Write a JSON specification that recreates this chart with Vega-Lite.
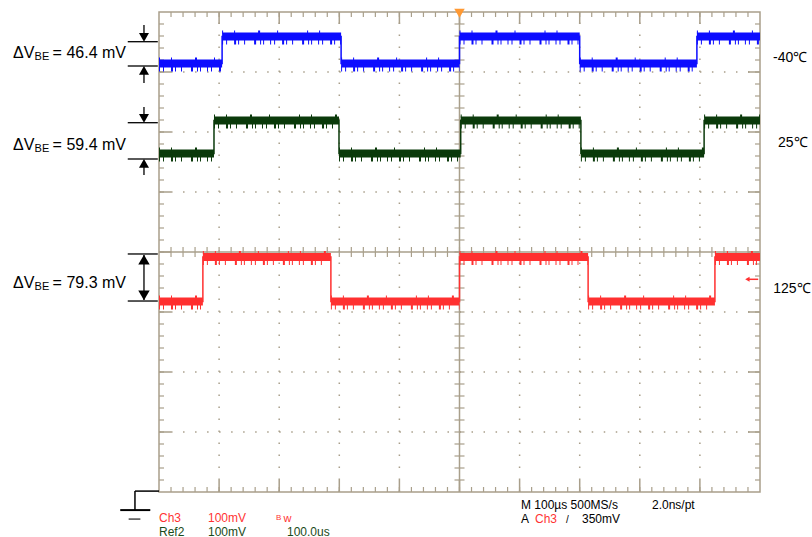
{
  "$schema": "https://vega.github.io/schema/vega-lite/v6.json",
  "width": 601,
  "height": 480,
  "autosize": {"type": "none"},
  "padding": {"left": 159, "top": 12, "right": 52, "bottom": 45},
  "background": "white",
  "config": {
    "view": {"stroke": "#a99f8b", "strokeWidth": 1.5},
    "axis": {"disable": true, "domain": false, "ticks": false, "labels": false, "grid": false, "titleOpacity": 0},
    "text": {"font": "Liberation Sans"}
  },
  "data": {"values": [{}]},
  "datasets": {
    "gx": [{"t": 1}, {"t": 2}, {"t": 3}, {"t": 4}, {"t": 6}, {"t": 7}, {"t": 8}, {"t": 9}],
    "gy": [{"t": -3}, {"t": -2}, {"t": -1}, {"t": 1}, {"t": 2}, {"t": 3}],
    "Mx": [{"t": 1}, {"t": 2}, {"t": 3}, {"t": 4}, {"t": 5}, {"t": 6}, {"t": 7}, {"t": 8}, {"t": 9}],
    "My": [{"t": -3}, {"t": -2}, {"t": -1}, {"t": 0}, {"t": 1}, {"t": 2}, {"t": 3}],
    "mx": [{"t":0.2},{"t":0.4},{"t":0.6},{"t":0.8},{"t":1.0},{"t":1.2},{"t":1.4},{"t":1.6},{"t":1.8},{"t":2.0},{"t":2.2},{"t":2.4},{"t":2.6},{"t":2.8},{"t":3.0},{"t":3.2},{"t":3.4},{"t":3.6},{"t":3.8},{"t":4.0},{"t":4.2},{"t":4.4},{"t":4.6},{"t":4.8},{"t":5.0},{"t":5.2},{"t":5.4},{"t":5.6},{"t":5.8},{"t":6.0},{"t":6.2},{"t":6.4},{"t":6.6},{"t":6.8},{"t":7.0},{"t":7.2},{"t":7.4},{"t":7.6},{"t":7.8},{"t":8.0},{"t":8.2},{"t":8.4},{"t":8.6},{"t":8.8},{"t":9.0},{"t":9.2},{"t":9.4},{"t":9.6},{"t":9.8}],
    "my": [{"t":-3.8},{"t":-3.6},{"t":-3.4},{"t":-3.2},{"t":-3.0},{"t":-2.8},{"t":-2.6},{"t":-2.4},{"t":-2.2},{"t":-2.0},{"t":-1.8},{"t":-1.6},{"t":-1.4},{"t":-1.2},{"t":-1.0},{"t":-0.8},{"t":-0.6},{"t":-0.4},{"t":-0.2},{"t":0.0},{"t":0.2},{"t":0.4},{"t":0.6},{"t":0.8},{"t":1.0},{"t":1.2},{"t":1.4},{"t":1.6},{"t":1.8},{"t":2.0},{"t":2.2},{"t":2.4},{"t":2.6},{"t":2.8},{"t":3.0},{"t":3.2},{"t":3.4},{"t":3.6},{"t":3.8}],
    "tr": [
      {"s":"-40","seg":"b1","i":1,"t":0,"v":3.14},{"s":"-40","seg":"b1","i":2,"t":1.05,"v":3.14},
      {"s":"-40","seg":"b2","i":3,"t":1.05,"v":3.59},{"s":"-40","seg":"b2","i":4,"t":3.03,"v":3.59},
      {"s":"-40","seg":"b3","i":5,"t":3.03,"v":3.14},{"s":"-40","seg":"b3","i":6,"t":5.0,"v":3.14},
      {"s":"-40","seg":"b4","i":7,"t":5.0,"v":3.59},{"s":"-40","seg":"b4","i":8,"t":7.0,"v":3.59},
      {"s":"-40","seg":"b5","i":9,"t":7.0,"v":3.14},{"s":"-40","seg":"b5","i":10,"t":8.95,"v":3.14},
      {"s":"-40","seg":"b6","i":11,"t":8.95,"v":3.59},{"s":"-40","seg":"b6","i":12,"t":10,"v":3.59},
      {"s":"25","seg":"g1","i":1,"t":0,"v":1.64},{"s":"25","seg":"g1","i":2,"t":0.915,"v":1.64},
      {"s":"25","seg":"g2","i":3,"t":0.915,"v":2.19},{"s":"25","seg":"g2","i":4,"t":2.995,"v":2.19},
      {"s":"25","seg":"g3","i":5,"t":2.995,"v":1.64},{"s":"25","seg":"g3","i":6,"t":5.02,"v":1.64},
      {"s":"25","seg":"g4","i":7,"t":5.02,"v":2.19},{"s":"25","seg":"g4","i":8,"t":7.02,"v":2.19},
      {"s":"25","seg":"g5","i":9,"t":7.02,"v":1.64},{"s":"25","seg":"g5","i":10,"t":9.07,"v":1.64},
      {"s":"25","seg":"g6","i":11,"t":9.07,"v":2.19},{"s":"25","seg":"g6","i":12,"t":10,"v":2.19},
      {"s":"125","seg":"r1","i":1,"t":0,"v":-0.825},{"s":"125","seg":"r1","i":2,"t":0.73,"v":-0.825},
      {"s":"125","seg":"r2","i":3,"t":0.73,"v":-0.083},{"s":"125","seg":"r2","i":4,"t":2.86,"v":-0.083},
      {"s":"125","seg":"r3","i":5,"t":2.86,"v":-0.825},{"s":"125","seg":"r3","i":6,"t":5.0,"v":-0.825},
      {"s":"125","seg":"r4","i":7,"t":5.0,"v":-0.083},{"s":"125","seg":"r4","i":8,"t":7.14,"v":-0.083},
      {"s":"125","seg":"r5","i":9,"t":7.14,"v":-0.825},{"s":"125","seg":"r5","i":10,"t":9.25,"v":-0.825},
      {"s":"125","seg":"r6","i":11,"t":9.25,"v":-0.083},{"s":"125","seg":"r6","i":12,"t":10,"v":-0.083}
    ]
  },
  "layer": [
    {"data": {"name": "gx"}, "mark": {"type": "rule", "color": "#a99f8b", "strokeWidth": 1.5, "strokeDash": [1.5, 10.5]},
     "encoding": {"x": {"field": "t", "type": "quantitative", "scale": {"domain": [0, 10], "nice": false, "zero": false}, "axis": null},
                  "y": {"datum": -4, "scale": {"domain": [-4, 4], "nice": false, "zero": false}, "axis": null}, "y2": {"datum": 4}}},
    {"data": {"name": "gy"}, "mark": {"type": "rule", "color": "#a99f8b", "strokeWidth": 1.5, "strokeDash": [1.5, 10.52]},
     "encoding": {"y": {"field": "t", "type": "quantitative", "axis": null}, "x": {"datum": 0, "axis": null}, "x2": {"datum": 10}}},
    {"mark": {"type": "rule", "color": "#a99f8b", "strokeWidth": 1.5},
     "encoding": {"x": {"datum": 5, "axis": null}, "y": {"datum": -4, "axis": null}, "y2": {"datum": 4}}},
    {"mark": {"type": "rule", "color": "#a99f8b", "strokeWidth": 1.5},
     "encoding": {"y": {"datum": 0, "axis": null}, "x": {"datum": 0, "axis": null}, "x2": {"datum": 10}}},
    {"data": {"name": "mx"}, "mark": {"type": "tick", "orient": "vertical", "color": "#a99f8b", "size": 10, "thickness": 1.2, "opacity": 1, "clip": true},
     "encoding": {"x": {"field": "t", "type": "quantitative", "axis": null}, "y": {"datum": -4, "axis": null}}},
    {"data": {"name": "mx"}, "mark": {"type": "tick", "orient": "vertical", "color": "#a99f8b", "size": 10, "thickness": 1.2, "opacity": 1, "clip": true},
     "encoding": {"x": {"field": "t", "type": "quantitative", "axis": null}, "y": {"datum": 4, "axis": null}}},
    {"data": {"name": "mx"}, "mark": {"type": "tick", "orient": "vertical", "color": "#a99f8b", "size": 10, "thickness": 1.2, "opacity": 1},
     "encoding": {"x": {"field": "t", "type": "quantitative", "axis": null}, "y": {"datum": 0, "axis": null}}},
    {"data": {"name": "my"}, "mark": {"type": "tick", "orient": "horizontal", "color": "#a99f8b", "size": 10, "thickness": 1.2, "opacity": 1, "clip": true},
     "encoding": {"y": {"field": "t", "type": "quantitative", "axis": null}, "x": {"datum": 0, "axis": null}}},
    {"data": {"name": "my"}, "mark": {"type": "tick", "orient": "horizontal", "color": "#a99f8b", "size": 10, "thickness": 1.2, "opacity": 1, "clip": true},
     "encoding": {"y": {"field": "t", "type": "quantitative", "axis": null}, "x": {"datum": 10, "axis": null}}},
    {"data": {"name": "my"}, "mark": {"type": "tick", "orient": "horizontal", "color": "#a99f8b", "size": 10, "thickness": 1.2, "opacity": 1},
     "encoding": {"y": {"field": "t", "type": "quantitative", "axis": null}, "x": {"datum": 5, "axis": null}}},
    {"data": {"name": "Mx"}, "mark": {"type": "tick", "orient": "vertical", "color": "#a99f8b", "size": 24, "thickness": 1.5, "opacity": 1, "clip": true},
     "encoding": {"x": {"field": "t", "type": "quantitative", "axis": null}, "y": {"datum": -4, "axis": null}}},
    {"data": {"name": "Mx"}, "mark": {"type": "tick", "orient": "vertical", "color": "#a99f8b", "size": 24, "thickness": 1.5, "opacity": 1, "clip": true},
     "encoding": {"x": {"field": "t", "type": "quantitative", "axis": null}, "y": {"datum": 4, "axis": null}}},
    {"data": {"name": "My"}, "mark": {"type": "tick", "orient": "horizontal", "color": "#a99f8b", "size": 24, "thickness": 1.5, "opacity": 1, "clip": true},
     "encoding": {"y": {"field": "t", "type": "quantitative", "axis": null}, "x": {"datum": 0, "axis": null}}},
    {"data": {"name": "My"}, "mark": {"type": "tick", "orient": "horizontal", "color": "#a99f8b", "size": 24, "thickness": 1.5, "opacity": 1, "clip": true},
     "encoding": {"y": {"field": "t", "type": "quantitative", "axis": null}, "x": {"datum": 10, "axis": null}}},

    {"data": {"name": "tr"}, "mark": {"type": "line", "strokeWidth": 8, "strokeCap": "butt"},
     "encoding": {"x": {"field": "t", "type": "quantitative", "axis": null}, "y": {"field": "v", "type": "quantitative", "axis": null},
                  "detail": {"field": "seg"},
                  "color": {"field": "s", "type": "nominal", "legend": null, "scale": {"domain": ["-40", "25", "125"], "range": ["#0d0dff", "#0b3a0b", "#ff3030"]}}}},
    {"data": {"name": "tr"}, "mark": {"type": "line", "strokeWidth": 5, "strokeCap": "butt", "yOffset": 5.5, "strokeDash": [1, 3, 1, 7, 2, 2, 1, 5, 1, 9, 2, 4, 1, 2, 1, 6]},
     "encoding": {"x": {"field": "t", "type": "quantitative", "axis": null}, "y": {"field": "v", "type": "quantitative", "axis": null},
                  "detail": {"field": "seg"},
                  "color": {"field": "s", "type": "nominal", "legend": null}}},
    {"data": {"name": "tr"}, "mark": {"type": "line", "strokeWidth": 3, "strokeCap": "butt", "yOffset": -4.5, "strokeDash": [1, 11, 1, 23, 2, 17, 1, 29]},
     "encoding": {"x": {"field": "t", "type": "quantitative", "axis": null}, "y": {"field": "v", "type": "quantitative", "axis": null},
                  "detail": {"field": "seg"},
                  "color": {"field": "s", "type": "nominal", "legend": null}}},
    {"data": {"name": "tr"}, "mark": {"type": "line", "strokeWidth": 1.5},
     "encoding": {"x": {"field": "t", "type": "quantitative", "axis": null}, "y": {"field": "v", "type": "quantitative", "axis": null},
                  "order": {"field": "i"},
                  "color": {"field": "s", "type": "nominal", "legend": null}}},

    {"mark": {"type": "point", "shape": "triangle-down", "filled": true, "color": "#ff9933", "size": 110, "opacity": 1},
     "encoding": {"x": {"datum": 5, "axis": null}, "y": {"datum": 3.98, "axis": null}}},
    {"mark": {"type": "rule", "color": "#ff3030", "strokeWidth": 1.5},
     "encoding": {"x": {"datum": 9.8, "axis": null}, "x2": {"datum": 9.97}, "y": {"datum": -0.455, "axis": null}}},
    {"mark": {"type": "point", "shape": "triangle-left", "filled": true, "color": "#ff3030", "size": 25, "opacity": 1},
     "encoding": {"x": {"datum": 9.79, "axis": null}, "y": {"datum": -0.455, "axis": null}}},

    {"mark": {"type": "rule", "color": "#000", "strokeWidth": 1.3},
     "encoding": {"x": {"datum": -0.52, "axis": null}, "x2": {"datum": -0.02}, "y": {"datum": 3.505, "axis": null}}},
    {"mark": {"type": "rule", "color": "#000", "strokeWidth": 1.3},
     "encoding": {"x": {"datum": -0.52, "axis": null}, "x2": {"datum": -0.02}, "y": {"datum": 3.1, "axis": null}}},
    {"mark": {"type": "rule", "color": "#000", "strokeWidth": 1.3},
     "encoding": {"x": {"datum": -0.25, "axis": null}, "y": {"datum": 3.783, "axis": null}, "y2": {"datum": 3.55}}},
    {"mark": {"type": "rule", "color": "#000", "strokeWidth": 1.3},
     "encoding": {"x": {"datum": -0.25, "axis": null}, "y": {"datum": 3.05, "axis": null}, "y2": {"datum": 2.817}}},
    {"mark": {"type": "point", "shape": "triangle-down", "filled": true, "color": "#000", "size": 100, "opacity": 1},
     "encoding": {"x": {"datum": -0.25, "axis": null}, "y": {"datum": 3.578, "axis": null}}},
    {"mark": {"type": "point", "shape": "triangle-up", "filled": true, "color": "#000", "size": 100, "opacity": 1},
     "encoding": {"x": {"datum": -0.25, "axis": null}, "y": {"datum": 3.027, "axis": null}}},

    {"mark": {"type": "rule", "color": "#000", "strokeWidth": 1.3},
     "encoding": {"x": {"datum": -0.52, "axis": null}, "x2": {"datum": -0.02}, "y": {"datum": 2.155, "axis": null}}},
    {"mark": {"type": "rule", "color": "#000", "strokeWidth": 1.3},
     "encoding": {"x": {"datum": -0.52, "axis": null}, "x2": {"datum": -0.02}, "y": {"datum": 1.55, "axis": null}}},
    {"mark": {"type": "rule", "color": "#000", "strokeWidth": 1.3},
     "encoding": {"x": {"datum": -0.25, "axis": null}, "y": {"datum": 2.417, "axis": null}, "y2": {"datum": 2.2}}},
    {"mark": {"type": "rule", "color": "#000", "strokeWidth": 1.3},
     "encoding": {"x": {"datum": -0.25, "axis": null}, "y": {"datum": 1.5, "axis": null}, "y2": {"datum": 1.283}}},
    {"mark": {"type": "point", "shape": "triangle-down", "filled": true, "color": "#000", "size": 100, "opacity": 1},
     "encoding": {"x": {"datum": -0.25, "axis": null}, "y": {"datum": 2.228, "axis": null}}},
    {"mark": {"type": "point", "shape": "triangle-up", "filled": true, "color": "#000", "size": 100, "opacity": 1},
     "encoding": {"x": {"datum": -0.25, "axis": null}, "y": {"datum": 1.477, "axis": null}}},

    {"mark": {"type": "rule", "color": "#000", "strokeWidth": 1.3},
     "encoding": {"x": {"datum": -0.52, "axis": null}, "x2": {"datum": -0.02}, "y": {"datum": -0.033, "axis": null}}},
    {"mark": {"type": "rule", "color": "#000", "strokeWidth": 1.3},
     "encoding": {"x": {"datum": -0.52, "axis": null}, "x2": {"datum": -0.02}, "y": {"datum": -0.817, "axis": null}}},
    {"mark": {"type": "rule", "color": "#000", "strokeWidth": 1.3},
     "encoding": {"x": {"datum": -0.25, "axis": null}, "y": {"datum": -0.05, "axis": null}, "y2": {"datum": -0.8}}},
    {"mark": {"type": "point", "shape": "triangle-up", "filled": true, "color": "#000", "size": 130, "opacity": 1},
     "encoding": {"x": {"datum": -0.25, "axis": null}, "y": {"datum": -0.128, "axis": null}}},
    {"mark": {"type": "point", "shape": "triangle-down", "filled": true, "color": "#000", "size": 130, "opacity": 1},
     "encoding": {"x": {"datum": -0.25, "axis": null}, "y": {"datum": -0.722, "axis": null}}},

    {"mark": {"type": "rule", "color": "#000", "strokeWidth": 1.5},
     "encoding": {"x": {"datum": -0.4, "axis": null}, "x2": {"datum": 0}, "y": {"datum": -3.985, "axis": null}}},
    {"mark": {"type": "rule", "color": "#000", "strokeWidth": 1.5},
     "encoding": {"x": {"datum": -0.4, "axis": null}, "y": {"datum": -3.985, "axis": null}, "y2": {"datum": -4.3}}},
    {"mark": {"type": "rect", "color": "#000", "opacity": 1},
     "encoding": {"x": {"datum": -0.645, "axis": null}, "x2": {"datum": -0.145}, "y": {"datum": -4.285, "axis": null}, "y2": {"datum": -4.318}}},
    {"mark": {"type": "rect", "color": "#555", "opacity": 1},
     "encoding": {"x": {"datum": -0.505, "axis": null}, "x2": {"datum": -0.31}, "y": {"datum": -4.438, "axis": null}, "y2": {"datum": -4.465}}},

    {"mark": {"type": "text", "align": "left", "baseline": "alphabetic", "fontSize": 16, "color": "#000"},
     "encoding": {"x": {"datum": -2.43, "axis": null}, "y": {"datum": 3.228, "axis": null}, "text": {"value": "ΔV"}}},
    {"mark": {"type": "text", "align": "left", "baseline": "alphabetic", "fontSize": 11, "color": "#000"},
     "encoding": {"x": {"datum": -2.07, "axis": null}, "y": {"datum": 3.195, "axis": null}, "text": {"value": "BE"}}},
    {"mark": {"type": "text", "align": "left", "baseline": "alphabetic", "fontSize": 16, "color": "#000"},
     "encoding": {"x": {"datum": -1.77, "axis": null}, "y": {"datum": 3.228, "axis": null}, "text": {"value": "= 46.4 mV"}}},

    {"mark": {"type": "text", "align": "left", "baseline": "alphabetic", "fontSize": 16, "color": "#000"},
     "encoding": {"x": {"datum": -2.43, "axis": null}, "y": {"datum": 1.692, "axis": null}, "text": {"value": "ΔV"}}},
    {"mark": {"type": "text", "align": "left", "baseline": "alphabetic", "fontSize": 11, "color": "#000"},
     "encoding": {"x": {"datum": -2.07, "axis": null}, "y": {"datum": 1.659, "axis": null}, "text": {"value": "BE"}}},
    {"mark": {"type": "text", "align": "left", "baseline": "alphabetic", "fontSize": 16, "color": "#000"},
     "encoding": {"x": {"datum": -1.77, "axis": null}, "y": {"datum": 1.692, "axis": null}, "text": {"value": "= 59.4 mV"}}},

    {"mark": {"type": "text", "align": "left", "baseline": "alphabetic", "fontSize": 16, "color": "#000"},
     "encoding": {"x": {"datum": -2.43, "axis": null}, "y": {"datum": -0.605, "axis": null}, "text": {"value": "ΔV"}}},
    {"mark": {"type": "text", "align": "left", "baseline": "alphabetic", "fontSize": 11, "color": "#000"},
     "encoding": {"x": {"datum": -2.07, "axis": null}, "y": {"datum": -0.638, "axis": null}, "text": {"value": "BE"}}},
    {"mark": {"type": "text", "align": "left", "baseline": "alphabetic", "fontSize": 16, "color": "#000"},
     "encoding": {"x": {"datum": -1.77, "axis": null}, "y": {"datum": -0.605, "axis": null}, "text": {"value": "= 79.3 mV"}}},

    {"mark": {"type": "text", "align": "left", "baseline": "alphabetic", "fontSize": 14, "color": "#000"},
     "encoding": {"x": {"datum": 10.216, "axis": null}, "y": {"datum": 3.172, "axis": null}, "text": {"value": "-40℃"}}},
    {"mark": {"type": "text", "align": "left", "baseline": "alphabetic", "fontSize": 14, "color": "#000"},
     "encoding": {"x": {"datum": 10.3, "axis": null}, "y": {"datum": 1.755, "axis": null}, "text": {"value": "25℃"}}},
    {"mark": {"type": "text", "align": "left", "baseline": "alphabetic", "fontSize": 14, "color": "#000"},
     "encoding": {"x": {"datum": 10.22, "axis": null}, "y": {"datum": -0.69, "axis": null}, "text": {"value": "125℃"}}},

    {"mark": {"type": "text", "align": "left", "baseline": "alphabetic", "fontSize": 12, "color": "#ff3333"},
     "encoding": {"x": {"datum": 0, "axis": null}, "y": {"datum": -4.5, "axis": null}, "text": {"value": "Ch3"}}},
    {"mark": {"type": "text", "align": "left", "baseline": "alphabetic", "fontSize": 12, "color": "#ff3333"},
     "encoding": {"x": {"datum": 0.815, "axis": null}, "y": {"datum": -4.5, "axis": null}, "text": {"value": "100mV"}}},
    {"mark": {"type": "text", "align": "left", "baseline": "alphabetic", "fontSize": 8, "color": "#ff3333"},
     "encoding": {"x": {"datum": 1.947, "axis": null}, "y": {"datum": -4.467, "axis": null}, "text": {"value": "B"}}},
    {"mark": {"type": "text", "align": "left", "baseline": "alphabetic", "fontSize": 11, "color": "#ff3333"},
     "encoding": {"x": {"datum": 2.07, "axis": null}, "y": {"datum": -4.5, "axis": null}, "text": {"value": "w"}}},
    {"mark": {"type": "text", "align": "left", "baseline": "alphabetic", "fontSize": 12, "color": "#1a4a1a"},
     "encoding": {"x": {"datum": 0, "axis": null}, "y": {"datum": -4.73, "axis": null}, "text": {"value": "Ref2"}}},
    {"mark": {"type": "text", "align": "left", "baseline": "alphabetic", "fontSize": 12, "color": "#1a4a1a"},
     "encoding": {"x": {"datum": 0.815, "axis": null}, "y": {"datum": -4.73, "axis": null}, "text": {"value": "100mV"}}},
    {"mark": {"type": "text", "align": "left", "baseline": "alphabetic", "fontSize": 12, "color": "#1a4a1a"},
     "encoding": {"x": {"datum": 2.13, "axis": null}, "y": {"datum": -4.73, "axis": null}, "text": {"value": "100.0us"}}},

    {"mark": {"type": "text", "align": "left", "baseline": "alphabetic", "fontSize": 12, "color": "#000"},
     "encoding": {"x": {"datum": 6.023, "axis": null}, "y": {"datum": -4.275, "axis": null}, "text": {"value": "M 100µs 500MS/s"}}},
    {"mark": {"type": "text", "align": "left", "baseline": "alphabetic", "fontSize": 12, "color": "#000"},
     "encoding": {"x": {"datum": 8.203, "axis": null}, "y": {"datum": -4.275, "axis": null}, "text": {"value": "2.0ns/pt"}}},
    {"mark": {"type": "text", "align": "left", "baseline": "alphabetic", "fontSize": 12, "color": "#000"},
     "encoding": {"x": {"datum": 6.023, "axis": null}, "y": {"datum": -4.517, "axis": null}, "text": {"value": "A"}}},
    {"mark": {"type": "text", "align": "left", "baseline": "alphabetic", "fontSize": 12, "color": "#ff3333"},
     "encoding": {"x": {"datum": 6.256, "axis": null}, "y": {"datum": -4.517, "axis": null}, "text": {"value": "Ch3"}}},
    {"mark": {"type": "text", "align": "left", "baseline": "alphabetic", "fontSize": 10, "color": "#000"},
     "encoding": {"x": {"datum": 6.772, "axis": null}, "y": {"datum": -4.517, "axis": null}, "text": {"value": "/"}}},
    {"mark": {"type": "text", "align": "left", "baseline": "alphabetic", "fontSize": 12, "color": "#000"},
     "encoding": {"x": {"datum": 7.038, "axis": null}, "y": {"datum": -4.517, "axis": null}, "text": {"value": "350mV"}}}
  ]
}
